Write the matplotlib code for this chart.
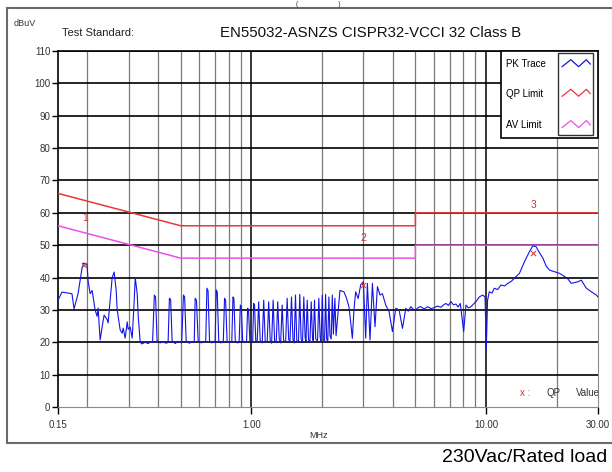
import numpy as np
import matplotlib
matplotlib.use('Agg')
import matplotlib.pyplot as plt
from matplotlib.patches import Rectangle
from matplotlib.ticker import FixedLocator, NullLocator

plt.rcParams['font.family'] = ['Liberation Sans', 'DejaVu Sans']

# PK trace (MHz, dBuV)
pk_freq = [0.150, 0.156, 0.172, 0.1756, 0.1826, 0.190, 0.193, 0.1995, 0.2015, 0.2056,
           0.2097, 0.2117, 0.2159, 0.2202, 0.2223, 0.2268, 0.2312, 0.2358, 0.2429, 0.2453,
           0.2502, 0.2552, 0.2602, 0.2655, 0.2681, 0.2761, 0.2816, 0.2844, 0.2900, 0.2958,
           0.2987, 0.3046, 0.3107, 0.3169, 0.3200, 0.3263, 0.3296, 0.3361, 0.342, 0.3524,
           0.3628, 0.3737, 0.3793, 0.386, 0.3907, 0.3966, 0.4085, 0.4207, 0.4331, 0.4418,
           0.4475, 0.4529, 0.4596, 0.4735, 0.4876, 0.5047, 0.5137, 0.5196, 0.5274, 0.5433,
           0.5597, 0.5708, 0.5762, 0.5834, 0.5936, 0.6115, 0.6266, 0.6391, 0.6465, 0.6537,
           0.6634, 0.6781, 0.6882, 0.7005, 0.7087, 0.7156, 0.7262, 0.7407, 0.7592, 0.7687,
           0.7768, 0.788, 0.8055, 0.8253, 0.835, 0.8425, 0.8543, 0.8714, 0.8869, 0.8975,
           0.9065, 0.9181, 0.938, 0.9538, 0.9643, 0.9728, 0.9854, 1.000, 1.013, 1.023,
           1.0316, 1.0442, 1.0588, 1.0745, 1.0904, 1.1122, 1.129, 1.1456, 1.1682, 1.1855,
           1.2032, 1.2199, 1.238, 1.2563, 1.2764, 1.2954, 1.3146, 1.333, 1.3527, 1.3728,
           1.4002, 1.4209, 1.4421, 1.4605, 1.4825, 1.5045, 1.5223, 1.5417, 1.5617, 1.5883,
           1.6085, 1.6293, 1.6519, 1.673, 1.6945, 1.7095, 1.7298, 1.7522, 1.7766, 1.7993,
           1.8227, 1.8371, 1.858, 1.8811, 1.9148, 1.9389, 1.9643, 1.9834, 2.005, 2.0265,
           2.0512, 2.0719, 2.0939, 2.1167, 2.140, 2.1627, 2.1888, 2.2126, 2.2367, 2.2699,
           2.2963, 2.3849, 2.4802, 2.5468, 2.6049, 2.6485, 2.6934, 2.7366, 2.7825, 2.8518,
           2.9229, 3.0021, 3.0706, 3.1222, 3.2035, 3.2796, 3.3646, 3.4451, 3.5342, 3.6183,
           3.7375, 3.8614, 3.9925, 4.1245, 4.2606, 4.4055, 4.5508, 4.66, 4.7795, 4.90,
           5.0222, 5.15, 5.2749, 5.45, 5.6364, 5.82, 6.0146, 6.21, 6.4221, 6.58,
           6.7462, 6.92, 7.0862, 7.26, 7.4442, 7.60, 7.7667, 8.0305, 8.2138, 8.42,
           8.6287, 8.85, 9.0634, 9.3628, 9.6806, 9.9015, 10.03, 10.15, 10.33, 10.60,
           10.85, 11.20, 11.59, 12.00, 12.38, 12.80, 13.21, 13.88, 14.58, 15.31,
           15.83, 16.36, 16.63, 17.47, 18.05, 18.65, 19.59, 20.57, 21.61, 22.30,
           23.08, 24.65, 25.47, 26.76, 28.10, 29.52, 30.00]
pk_level = [33.0, 35.5, 35.0, 30.3, 35.0, 43.0, 44.5, 44.0, 39.0, 35.0,
            36.0, 34.0, 30.0, 28.0, 30.6, 20.7, 24.7, 28.4, 27.0, 26.0,
            33.0, 40.0, 41.7, 36.0, 30.0, 23.8, 22.8, 24.4, 21.3, 26.3,
            24.0, 24.7, 21.3, 33.0, 40.0, 35.0, 28.0, 20.0, 19.5, 20.0,
            19.6, 20.2, 20.0, 34.6, 34.0, 20.5, 19.8, 20.2, 19.7, 20.0,
            33.6, 33.2, 20.5, 19.6, 20.3, 19.8, 34.6, 34.0, 20.5, 19.7,
            20.2, 20.0, 33.6, 33.0, 20.4, 19.8, 20.3, 20.0, 36.7, 36.0,
            20.5, 19.8, 20.3, 20.0, 36.2, 35.5, 20.5, 19.8, 20.1, 33.6,
            33.0, 20.4, 19.9, 20.2, 34.0, 33.5, 20.3, 19.8, 20.1, 31.5,
            31.0, 20.5, 19.9, 20.2, 30.5, 30.0, 20.4, 20.0, 20.2, 32.0,
            31.5, 20.5, 20.0, 32.5, 20.6, 19.8, 33.0, 20.4, 20.1, 32.5,
            20.6, 19.7, 33.0, 20.5, 20.0, 32.5, 21.0, 19.8, 31.5, 20.5,
            20.1, 33.6, 21.0, 20.0, 34.0, 20.8, 19.8, 34.6, 20.5, 20.2,
            34.8, 21.0, 20.0, 34.0, 21.5, 20.3, 33.0, 20.8, 20.0, 32.5,
            21.0, 20.4, 33.0, 21.0, 20.4, 33.6, 21.5, 20.0, 34.6, 20.8,
            20.3, 34.8, 21.0, 20.2, 34.0, 22.0, 21.0, 34.6, 22.5, 33.6,
            22.0, 36.0, 35.6, 33.5, 31.0, 26.4, 21.2, 30.0, 35.6, 33.5,
            37.7, 38.7, 21.3, 38.2, 20.7, 38.2, 24.8, 37.2, 34.6, 35.0,
            31.5, 29.5, 23.3, 30.5, 30.0, 24.3, 30.5, 29.6, 31.0, 30.2,
            30.0, 30.8, 31.0, 30.3, 31.0, 30.4, 30.7, 31.2, 30.8, 31.5,
            32.0, 31.4, 32.6, 31.6, 31.8, 30.9, 32.0, 23.3, 31.5, 30.6,
            31.0, 31.8, 32.6, 34.0, 34.6, 34.0, 18.0, 33.0, 35.6, 35.2,
            36.7, 36.3, 37.7, 37.4, 38.2, 38.8, 39.8, 41.3, 44.9, 48.0,
            49.8, 49.5, 48.5, 46.0, 43.5, 42.3, 41.8, 41.3, 40.3, 39.6,
            38.2, 38.7, 39.2, 36.7, 35.6, 34.6, 34.0]

# limit lines (MHz, dBuV)
qp_freq = [0.15, 0.5, 5.0, 5.0, 30.0]
qp_level = [66.0, 56.0, 56.0, 60.0, 60.0]
av_freq = [0.15, 0.5, 5.0, 5.0, 30.0]
av_level = [56.0, 46.0, 46.0, 50.0, 50.0]

# QP measurement points
qp_pt_freq = [0.193, 3.00, 15.83]
qp_pt_level = [43.9, 37.7, 47.5]
pt_labels = ['1', '2', '3']
pt_label_freq = [0.196, 3.00, 16.0]
pt_label_level = [58.4, 52.2, 62.4]

y_ticks = [0, 10, 20, 30, 40, 50, 60, 70, 80, 90, 100, 110]
x_ticks = [0.15, 1.0, 10.0, 30.0]
x_ticklabels = ['0.15', '1.00', '10.00', '30.00']
minor_grid = [0.2, 0.3, 0.4, 0.5, 0.6, 0.7, 0.8, 0.9, 2, 3, 4, 5, 6, 7, 8, 9, 20]
major_grid = [1.0, 10.0]

BLUE = '#1414e6'
RED = '#e8383a'
MAG = '#ec50ec'

fig = plt.figure(figsize=(6.12, 4.72), dpi=100)
ax = fig.add_axes([58 / 612, 1 - 407 / 472, 540 / 612, 356 / 472])

ax.set_xscale('log')
ax.set_xlim(0.15, 30)
ax.set_ylim(0, 110)

for f in minor_grid:
    ax.axvline(f, color='#7a7a7a', lw=0.9, zorder=1)
for f in major_grid:
    ax.axvline(f, color='black', lw=1.1, zorder=1)
for v in y_ticks[1:]:
    ax.axhline(v, color='black', lw=1.2, zorder=1)

ax.plot(qp_freq, qp_level, color=RED, lw=1.1, zorder=3)
ax.plot(av_freq, av_level, color=MAG, lw=1.1, zorder=3)
ax.plot(pk_freq, pk_level, color=BLUE, lw=0.8, zorder=4)
ax.scatter(qp_pt_freq, qp_pt_level, marker='x', color='#d04040', s=14, lw=0.8, zorder=5)
for f, v, t in zip(pt_label_freq, pt_label_level, pt_labels):
    ax.text(f, v, t, color='#d03030', fontsize=7.5, ha='center', va='center', zorder=5)

ax.xaxis.set_major_locator(FixedLocator(x_ticks))
ax.xaxis.set_minor_locator(NullLocator())
ax.set_xticklabels(x_ticklabels)
ax.set_yticks(y_ticks)
ax.tick_params(axis='both', direction='out', length=4, width=1, color='black',
               labelsize=7, labelcolor='#333333', pad=1.5)
ax.tick_params(axis='x', length=5, pad=4)

ax.spines['left'].set_color('black')
ax.spines['left'].set_linewidth(1.2)
ax.spines['top'].set_color('black')
ax.spines['top'].set_linewidth(1.2)
ax.spines['bottom'].set_color('#8a8a8a')
ax.spines['right'].set_color('#8a8a8a')

# legend box
lax = fig.add_axes([501 / 612, 1 - 138 / 472, 97 / 612, 87 / 472])
lax.set_xlim(0, 1)
lax.set_ylim(0, 1)
lax.axis('off')
lax.add_patch(Rectangle((0, 0), 1, 1, facecolor='white', edgecolor='black', lw=1.2,
                        transform=lax.transAxes, zorder=6, clip_on=False))
lax.add_patch(Rectangle((0.59, 0.03), 0.36, 0.95, facecolor='white', edgecolor='#333333',
                        lw=1.0, zorder=7, clip_on=False))
zig_x = np.array([0.63, 0.72, 0.80, 0.88, 0.92])
zig_y = np.array([-0.03, 0.05, -0.03, 0.05, 0.0])
for yc, name, c in [(0.85, 'PK Trace', BLUE), (0.51, 'QP Limit', RED), (0.15, 'AV Limit', MAG)]:
    lax.text(0.05, yc, name, fontsize=7, va='center', ha='left', zorder=8)
    lax.plot(zig_x, yc + zig_y, color=c, lw=0.9, zorder=8)

# text
ax.text(0.855, 0.04, 'x :', color='#e03030', fontsize=7, transform=ax.transAxes, va='center')
ax.text(0.905, 0.04, 'QP', color='#333333', fontsize=7, transform=ax.transAxes, va='center')
ax.text(0.96, 0.04, 'Value', color='#333333', fontsize=7, transform=ax.transAxes, va='center')

fig.text(14 / 612, 1 - 24 / 472, 'dBuV', fontsize=6.5, color='#333333', va='center')
fig.text(62 / 612, 1 - 33 / 472, 'Test Standard:', fontsize=8, color='#222222', va='center')
fig.text(371 / 612, 1 - 33 / 472, 'EN55032-ASNZS CISPR32-VCCI 32 Class B', fontsize=10.8,
         color='#111111', va='center', ha='center')
fig.text(318 / 612, 1 - 436 / 472, 'MHz', fontsize=6.5, color='#333333', va='center', ha='center')
fig.text(318 / 612, 1 - 4 / 472, '(                    )', fontsize=5, color='#333333',
         va='center', ha='center')
fig.text(607 / 612, 1 - 458 / 472, '230Vac/Rated load', fontsize=14, color='black',
         va='center', ha='right')

# outer frame
fig.patches.append(Rectangle((7 / 612, 1 - 443 / 472), 0.99, 435 / 472, transform=fig.transFigure,
                             fill=False, edgecolor='#6a6a6a', lw=1.5, zorder=0))

fig.savefig('out.png', dpi=100)
